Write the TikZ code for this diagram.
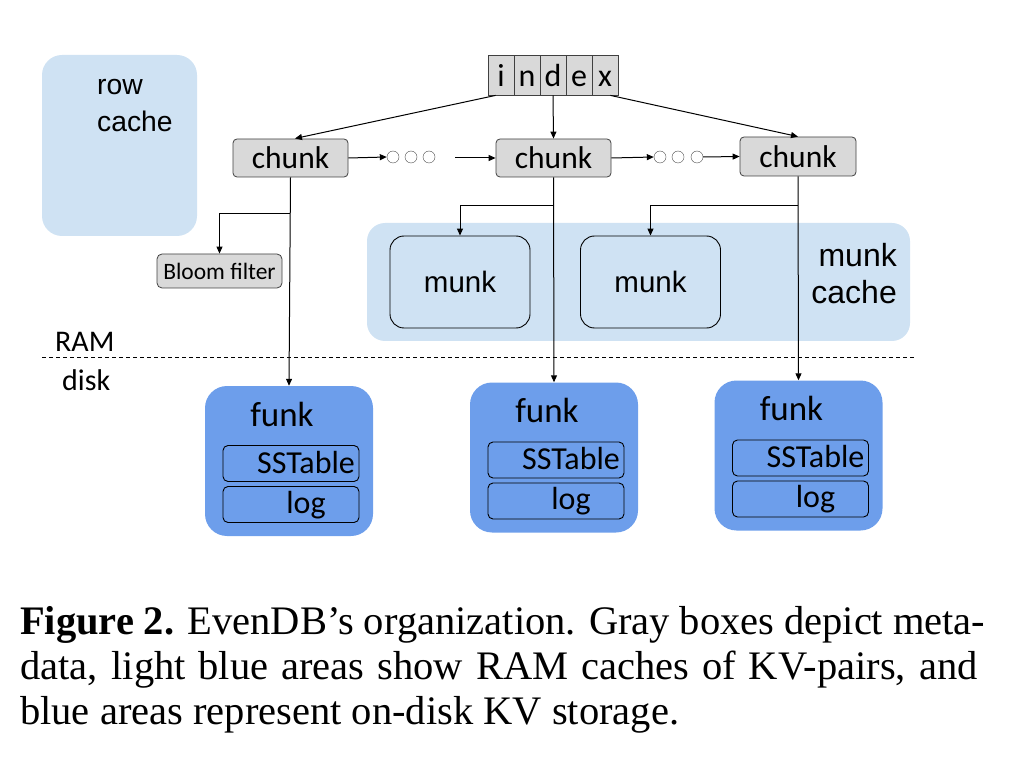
\documentclass[tikz,border=0pt]{standalone}
\usepackage{fontspec}
\setmainfont{Liberation Serif}
\newfontfamily\calfnt{Carlito}
\newfontfamily\arifnt{Liberation Sans}
\usetikzlibrary{arrows.meta}
\definecolor{lblue}{HTML}{CFE2F3}
\definecolor{fblue}{HTML}{6D9EEB}
\definecolor{mgray}{HTML}{D9D9D9}
\tikzset{
  every picture/.style={x=1pt,y=-1pt},
  gbox/.style={draw=black!75,line width=0.8pt,fill=mgray,rounded corners=4pt,font=\calfnt\fontsize{31.5}{33}\selectfont,inner sep=0pt},
  icell/.style={draw=black!75,line width=0.8pt,fill=mgray,minimum width=26pt,minimum height=40pt,inner sep=0pt,text height=26pt,text depth=2pt,font=\calfnt\fontsize{32}{34}\selectfont},
  munkbox/.style={draw=black,line width=0.9pt,fill=lblue,rounded corners=14pt,minimum width=140pt,minimum height=92pt,inner sep=0pt,font=\arifnt\fontsize{29.5}{31}\selectfont},
  funkbox/.style={fill=fblue,rounded corners=22pt,minimum width=168pt,minimum height=150pt,inner sep=0pt},
  inbox/.style={draw=black,line width=0.9pt,rounded corners=5pt,minimum width=136pt,minimum height=36pt,inner sep=0pt},
  intxt/.style={font=\calfnt\fontsize{32}{34}\selectfont,inner sep=0pt,anchor=base},
  conn/.style={draw=black,line width=1pt},
  arr/.style={conn,-{Triangle[length=7pt,width=6pt]}},
  dot/.style={circle,draw=black!70,fill=white,minimum size=12pt,inner sep=0pt},
  lbl/.style={font=\arifnt\fontsize{28.3}{30}\selectfont,inner sep=0pt},
  mlbl/.style={font=\arifnt\fontsize{32}{34}\selectfont,inner sep=0pt,anchor=base east},
  rdlbl/.style={font=\calfnt\fontsize{30}{32}\selectfont,inner sep=0pt,anchor=base west},
  captxt/.style={font=\fontsize{40.5}{44}\selectfont,anchor=base west,inner sep=0pt}
}
\begin{document}
\begin{tikzpicture}
\useasboundingbox (0,0) rectangle (1015,759);
% row cache
\node[fill=lblue,rounded corners=20pt,minimum width=155pt,minimum height=181pt,inner sep=0pt] (rowc) at (119.5,145.5) {};
\node[lbl,anchor=base west] (rowt1) at (97,95) {row};
\node[lbl,anchor=base west] (rowt2) at (97,132) {cache};
% munk cache
\node[fill=lblue,rounded corners=18pt,minimum width=543pt,minimum height=118pt,inner sep=0pt] (mcache) at (638.5,282) {};
\node[mlbl] (mct1) at (897,267) {munk};
\node[mlbl] (mct2) at (897,304) {cache};
% index
\foreach \c [count=\i] in {i,n,d,e,x} {
  \node[icell] (ix\i) at (488+26*\i-13,75) {\c};
}
% chunks
\node[gbox,minimum width=115pt,minimum height=38pt] (c1) at (290.5,158) {chunk};
\node[gbox,minimum width=115pt,minimum height=38pt] (c2) at (553.5,158) {chunk};
\node[gbox,minimum width=116pt,minimum height=39pt] (c3) at (798,156.5) {chunk};
% dots
\node[dot] (d1) at (393,157) {};
\node[dot] (d2) at (411,157) {};
\node[dot] (d3) at (429,157) {};
\node[dot] (e1) at (660,157) {};
\node[dot] (e2) at (678,157) {};
\node[dot] (e3) at (697,157) {};
\coordinate (g1) at (455,158);
% bloom
\node[gbox,font=\calfnt\fontsize{23.5}{25}\selectfont,minimum width=125pt,minimum height=34pt,rounded corners=5pt] (bloom) at (219.5,271) {Bloom filter};
% munks
\node[munkbox] (m1) at (460,282) {munk};
\node[munkbox] (m2) at (650.5,282) {munk};
% funks
\foreach \n/\x/\y in {1/289/461,2/554/457.5,3/798.5/455.5} {
  \node[funkbox] (f\n) at (\x,\y) {};
  \node[font=\calfnt\fontsize{35}{36}\selectfont,inner sep=0pt,anchor=base] (ft\n) at (\x-7,\y-35) {funk};
  \node[inbox] (s\n) at (\x+2,\y+2.5) {};
  \node[intxt] (st\n) at (\x+17,\y+12) {SSTable};
  \node[inbox] (l\n) at (\x+2,\y+43.5) {};
  \node[intxt] (lt\n) at (\x+17,\y+52) {log};
}
% RAM/disk
\coordinate (dl) at (42,357);
\coordinate (dr) at (915,357);
\draw[line width=0.8pt,dash pattern=on 4pt off 3pt] (dl) -- (dr);
\node[rdlbl] (ram) at (55,352) {RAM};
\node[rdlbl] (disk) at (62,390) {disk};
% connectors from index
\draw[arr] (ix1.south west) ++(8,0) coordinate (ia) -- (295,138.5);
\draw[arr] (ix3.south) -- (c2.north);
\draw[arr] (ix5.south east) ++(-8,0) coordinate (ib) -- (c3.north);
% chain
\draw[arr] (c1.east) -- (d1.west);
\draw[arr] (g1) -- (c2.west);
\draw[arr] (c2.east) -- (e1.west);
\draw[arr] (e3.east) -- (c3.west);
% verticals
\draw[arr] (c1.south) -- (f1.north);
\draw[arr] (c2.south) -- (f2.north);
\draw[arr] (c3.south) -- (f3.north);
% branches
\draw[arr] (290,214) -| (bloom.north);
\draw[arr] (554,206) -| (m1.north);
\draw[arr] (798,206) -| (m2.north);
% caption
\node[captxt] (cap1) at (20,634) {\makebox[965pt][s]{\textbf{Figure 2.} EvenDB’s organization. Gray boxes depict meta-}};
\node[captxt] (cap2) at (20,679) {\makebox[958pt][s]{data, light blue areas show RAM caches of KV-pairs, and}};
\node[captxt] (cap3) at (20,724) {blue areas represent on-disk KV storage.};
\end{tikzpicture}
\end{document}
